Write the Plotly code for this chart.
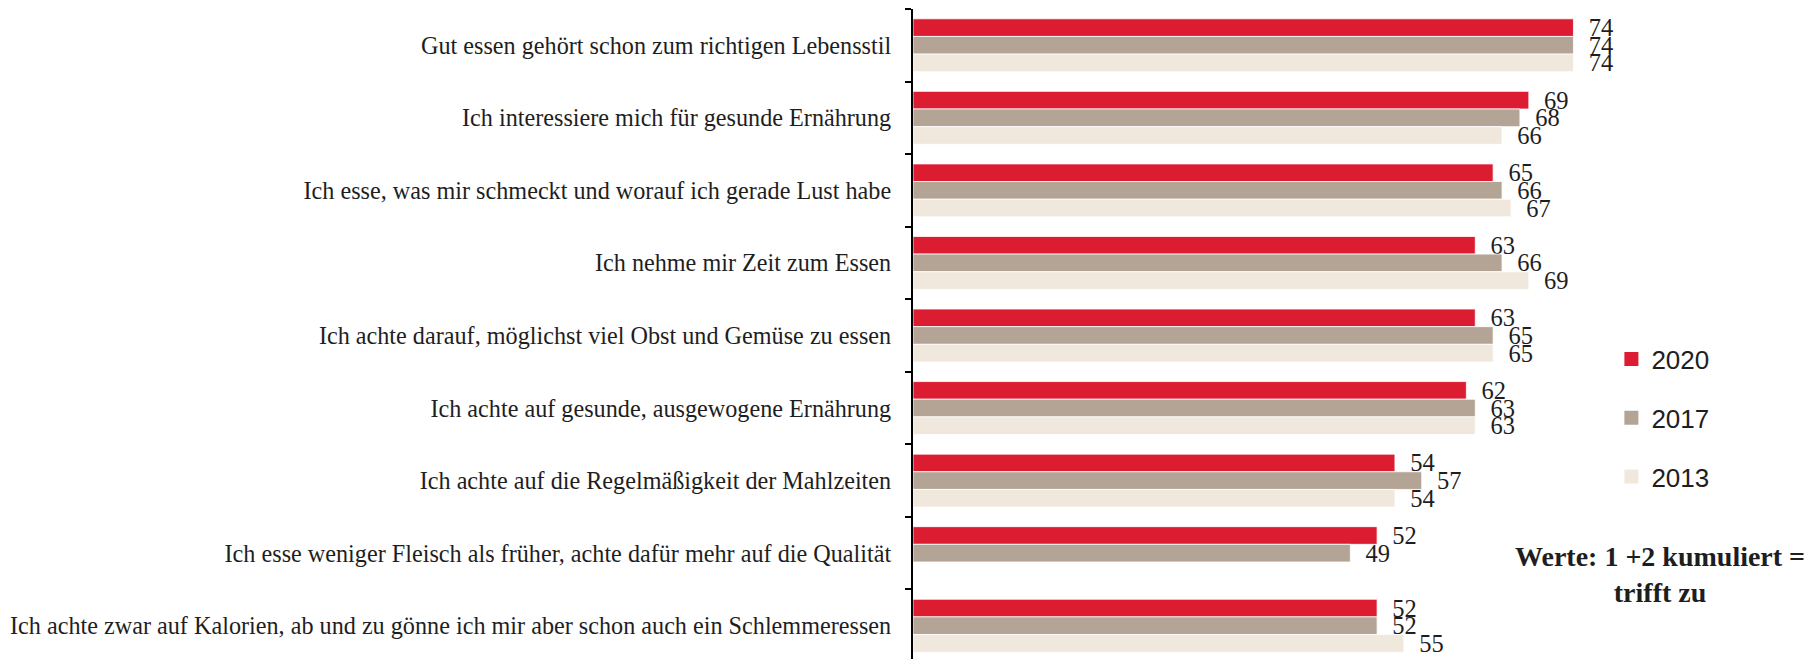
import plotly.graph_objects as go

categories = [
    "Gut essen gehört schon zum richtigen Lebensstil",
    "Ich interessiere mich für gesunde Ernährung",
    "Ich esse, was mir schmeckt und worauf ich gerade Lust habe",
    "Ich nehme mir Zeit zum Essen",
    "Ich achte darauf, möglichst viel Obst und Gemüse zu essen",
    "Ich achte auf gesunde, ausgewogene Ernährung",
    "Ich achte auf die Regelmäßigkeit der Mahlzeiten",
    "Ich esse weniger Fleisch als früher, achte dafür mehr auf die Qualität",
    "Ich achte zwar auf Kalorien, ab und zu gönne ich mir aber schon auch ein Schlemmeressen",
]
values_2020 = [74, 69, 65, 63, 63, 62, 54, 52, 52]
values_2017 = [74, 68, 66, 66, 65, 63, 57, 49, 52]
values_2013 = [74, 66, 67, 69, 65, 63, 54, None, 55]
series_names = ["2020", "2017", "2013"]
colors = ["#DC1C31", "#B3A495", "#F0E8DC"]

W, H = 1807, 654
left, top, bottom = 905, 1, 0
right_px = 1618.6
plot_w = right_px - left
plot_h = H - top - bottom


def px_x(x):
    return (x - left) / plot_w


def px_y(y):
    return 1 - (y - top) / plot_h


fig = go.Figure()

for name, vals, col in zip(series_names, [values_2020, values_2017, values_2013], colors):
    fig.add_trace(go.Bar(
        y=categories, x=vals, orientation="h", name=name,
        marker=dict(color=col, line=dict(color="white", width=0.8)),
        text=vals, texttemplate="\u00a0\u00a0%{x}", textposition="outside",
        textfont=dict(family="Liberation Serif", size=24.5, color="#1e1e1e"),
        constraintext="none", cliponaxis=False, showlegend=False,
        legendgroup=name,
    ))

for name, col in zip(series_names, colors):
    fig.add_trace(go.Scatter(
        x=[None], y=[None], mode="markers", name=name, legendgroup=name,
        marker=dict(symbol="square", size=14, color=col, line=dict(width=0)),
    ))

fig.add_annotation(
    text="<b>Werte: 1 +2 kumuliert =<br>trifft zu</b>",
    xref="paper", yref="paper", x=px_x(1652), y=px_y(566.7),
    xanchor="center", yanchor="middle", align="center", showarrow=False,
    font=dict(family="Liberation Serif", size=28, color="#1e1e1e"),
)

fig.update_layout(
    width=W, height=H,
    margin=dict(l=left, r=W - right_px, t=top, b=bottom, autoexpand=False),
    paper_bgcolor="white", plot_bgcolor="white",
    barmode="group", bargap=0.27, bargroupgap=0.0,
    legend=dict(
        x=px_x(1603), y=px_y(327.5),
        xanchor="left", yanchor="top", tracegroupgap=22,
        font=dict(family="Liberation Sans", size=26, color="#1e1e1e"),
        bgcolor="rgba(0,0,0,0)",
    ),
    xaxis=dict(range=[0, 80], showgrid=False, zeroline=False, showline=False,
               showticklabels=False, ticks="", automargin=False),
    yaxis=dict(range=[8.5, -0.5], showgrid=False, zeroline=False, automargin=False,
               showline=True, linecolor="black", linewidth=2,
               ticks="outside", ticklen=6, tickwidth=2, tickcolor="black",
               tickson="boundaries", ticklabelstandoff=15,
               tickfont=dict(family="Liberation Serif", size=24.2, color="#1e1e1e")),
    font=dict(family="Liberation Serif"),
)

fig.write_html("out.html")
